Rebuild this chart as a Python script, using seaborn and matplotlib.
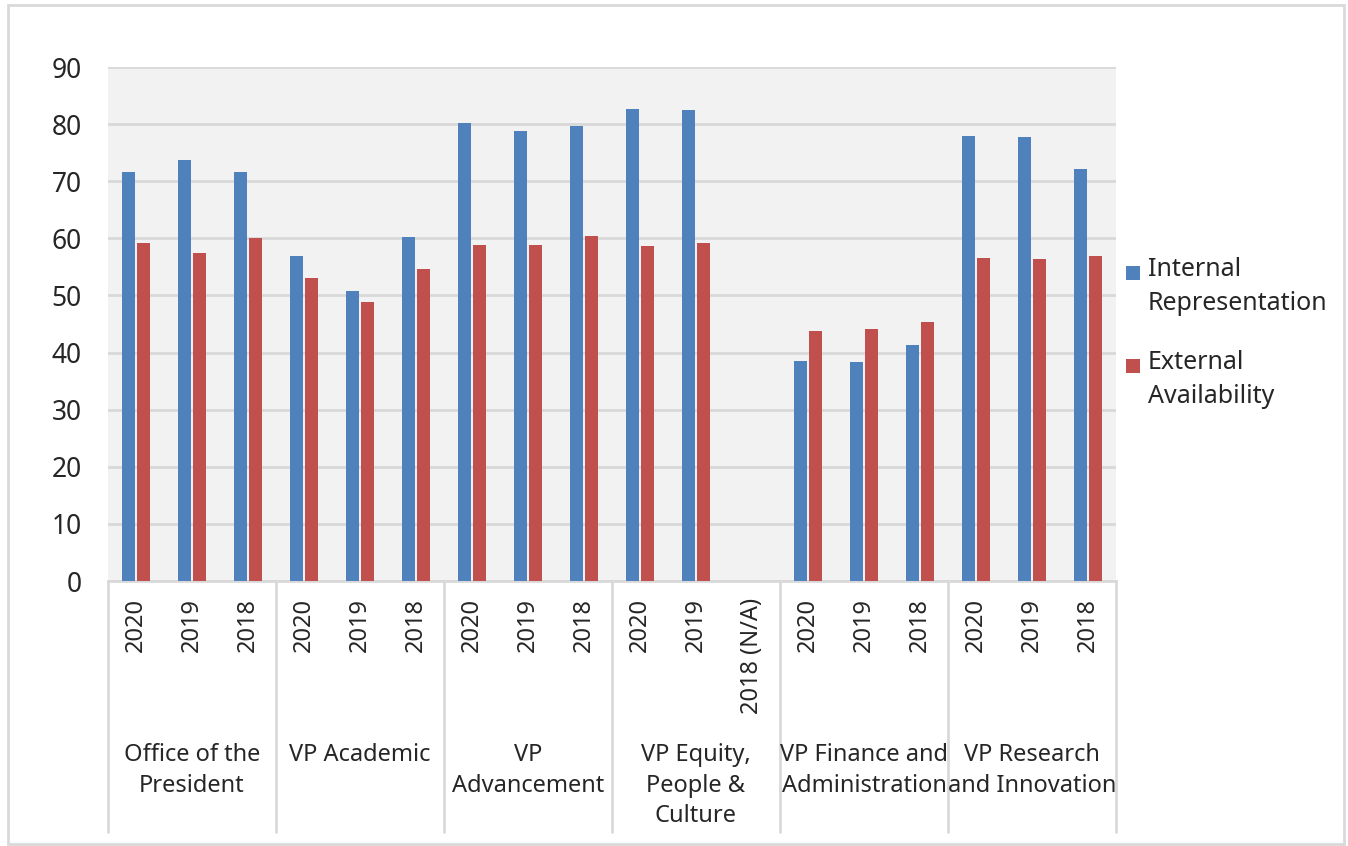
import pandas as pd
import numpy as np
import matplotlib
matplotlib.use("Agg")
import matplotlib.pyplot as plt
import matplotlib.transforms as mtransforms
from matplotlib.patches import Rectangle
import seaborn as sns

# === data ===
groups = ["Office of the\nPresident", "VP Academic", "VP\nAdvancement",
          "VP Equity,\nPeople &\nCulture", "VP Finance and\nAdministration",
          "VP Research\nand Innovation"]
years = [["2020", "2019", "2018"]] * 3 + [["2020", "2019", "2018 (N/A)"]] + [["2020", "2019", "2018"]] * 2
internal = [71.7, 73.7, 71.7,
            56.9, 50.8, 60.2,
            80.2, 78.8, 79.6,
            82.7, 82.5, np.nan,
            38.5, 38.3, 41.4,
            77.9, 77.7, 72.1]
external = [59.1, 57.4, 60.1,
            53.1, 48.8, 54.6,
            58.9, 58.9, 60.4,
            58.7, 59.1, np.nan,
            43.7, 44.1, 45.3,
            56.6, 56.4, 56.9]
series = ["Internal Representation", "External Availability"]
legend_labels = ["Internal\nRepresentation", "External\nAvailability"]
colors = ["#4F81BD", "#C0504D"]

slots = [f"{g}|{y}" for g, ys in zip(groups, years) for y in ys]
tick_labels = [y for ys in years for y in ys]
df = pd.DataFrame({
    "slot": slots * 2,
    "series": [series[0]] * len(slots) + [series[1]] * len(slots),
    "value": internal + external,
})

# === style ===
sns.set_style("white")
plt.rcParams["font.family"] = ["Noto Sans", "DejaVu Sans"]

W, H = 1348, 846
fig = plt.figure(figsize=(W / 100, H / 100), dpi=100)
ax = fig.add_axes([108 / W, 1 - 581 / H, 1008 / W, 514 / H])
ax.set_facecolor("#F2F2F2")

sns.barplot(data=df, x="slot", y="value", hue="series", order=slots,
            hue_order=series, palette=colors, saturation=1, width=0.56,
            gap=0.18, linewidth=0, errorbar=None, legend=False, ax=ax,
            zorder=3)

ax.set_ylim(0, 90)
ax.set_xlim(-0.5, len(slots) - 0.5)
ax.set_yticks(range(0, 91, 10))
ax.yaxis.grid(True, color="#D9D9D9", lw=2, zorder=0)
ax.set_axisbelow(True)
for s in ["top", "right", "left"]:
    ax.spines[s].set_visible(False)
ax.spines["bottom"].set_color("#D9D9D9")
ax.spines["bottom"].set_linewidth(2)
ax.tick_params(axis="y", length=0, pad=19, labelsize=19)
ax.set_xticks(range(len(slots)))
ax.set_xticklabels(tick_labels, rotation=90, fontsize=17, va="top")
ax.tick_params(axis="x", length=0, pad=12)
ax.set_xlabel("")
ax.set_ylabel("")

# group labels + separators under the axis
trans = mtransforms.blended_transform_factory(ax.transData, ax.transAxes)
for i, g in enumerate(groups):
    ax.text(i * 3 + 1, -0.316, g, transform=trans, ha="center", va="top",
            fontsize=17, linespacing=1.36)
for b in np.arange(-0.5, len(slots), 3):
    ax.plot([b, b], [0, -0.488], transform=trans, color="#D9D9D9", lw=2,
            clip_on=False)

# legend (square aligned with first line of each label)
for (ly, lab, c) in zip([273, 366], legend_labels, colors):
    fig.patches.append(Rectangle((1126 / W, 1 - (ly + 7) / H), 14 / W, 14 / H,
                                 transform=fig.transFigure, facecolor=c,
                                 edgecolor="none"))
    fig.text(1148 / W, 1 - (ly - 16) / H, lab, ha="left", va="top",
             fontsize=18, linespacing=1.45)

# outer border
fig.patches.append(Rectangle((8 / W, 2 / H), 1336 / W, 839 / H,
                             transform=fig.transFigure, fill=False,
                             edgecolor="#D9D9D9", lw=2))

fig.savefig("out.png", dpi=100)
